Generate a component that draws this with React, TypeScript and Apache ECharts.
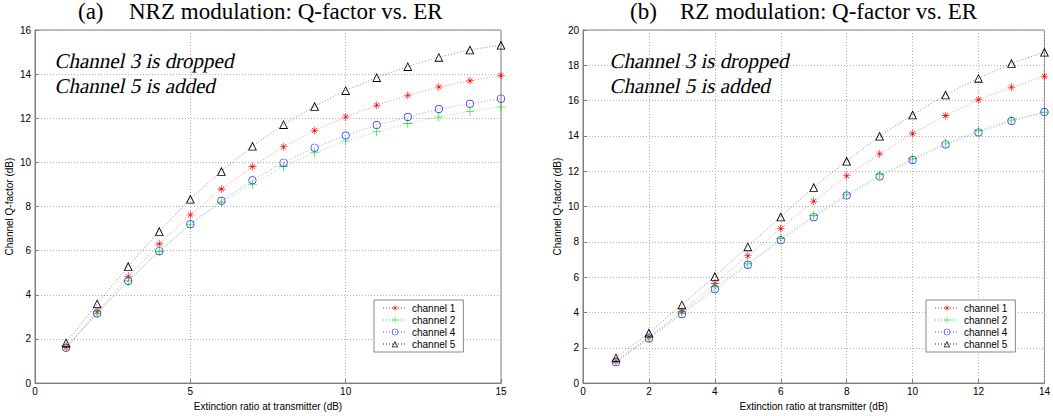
import React, { useEffect, useRef } from "react";
import * as echarts from "echarts";

const erNRZ = [1, 2, 3, 4, 5, 6, 7, 8, 9, 10, 11, 12, 13, 14, 15];
const nrzCh1 = [1.62, 3.23, 4.84, 6.31, 7.62, 8.79, 9.81, 10.71, 11.45, 12.06, 12.59, 13.04, 13.42, 13.70, 13.94];
const nrzCh2 = [1.65, 3.17, 4.63, 5.97, 7.2, 8.2, 9.01, 9.81, 10.44, 10.97, 11.39, 11.76, 12.06, 12.32, 12.51];
const nrzCh4 = [1.6, 3.15, 4.63, 5.98, 7.2, 8.26, 9.19, 9.99, 10.67, 11.22, 11.69, 12.06, 12.42, 12.66, 12.89];
const nrzCh5 = [1.83, 3.6, 5.29, 6.88, 8.34, 9.6, 10.74, 11.72, 12.54, 13.26, 13.85, 14.35, 14.77, 15.1, 15.32];

const erRZ = [1, 2, 3, 4, 5, 6, 7, 8, 9, 10, 11, 12, 13, 14];
const rzCh1 = [1.25, 2.6, 4.06, 5.65, 7.21, 8.76, 10.3, 11.74, 12.98, 14.14, 15.15, 16.05, 16.76, 17.38];
const rzCh2 = [1.22, 2.58, 3.95, 5.45, 6.75, 8.2, 9.5, 10.7, 11.8, 12.7, 13.6, 14.3, 14.9, 15.35];
const rzCh4 = [1.18, 2.53, 3.9, 5.32, 6.7, 8.09, 9.4, 10.62, 11.7, 12.64, 13.52, 14.2, 14.85, 15.35];
const rzCh5 = [1.44, 2.85, 4.44, 6.05, 7.73, 9.42, 11.09, 12.58, 13.99, 15.2, 16.33, 17.27, 18.11, 18.75];

const channelNames = ["channel 1", "channel 2", "channel 4", "channel 5"];
const titleTags = ["(a)", "(b)"];
const titleTexts = ["NRZ modulation: Q-factor vs. ER", "RZ modulation: Q-factor vs. ER"];
const noteLines = ["Channel 3 is dropped", "Channel 5 is added"];
const xName = "Extinction ratio at transmitter (dB)";
const yName = "Channel Q-factor (dB)";

const PLUS = "path://M4.65 0H5.35V4.65H10V5.35H5.35V10H4.65V5.35H0V4.65H4.65Z";
const STAR =
  "path://M4.65 0H5.35V4.65H10V5.35H5.35V10H4.65V5.35H0V4.65H4.65Z M1.7 2.2L2.2 1.7L8.3 7.8L7.8 8.3Z M7.8 1.7L8.3 2.2L2.2 8.3L1.7 7.8Z";
const RING =
  "path://M0 5A5 5 0 1 0 10 5A5 5 0 1 0 0 5Z M0.9 5A4.1 4.1 0 1 1 9.1 5A4.1 4.1 0 1 1 0.9 5Z";
const TRI = "path://M5 0L10 9L0 9Z M5 1.9L1.55 8.15L8.45 8.15Z";

const styles = [
  { color: "#ff0000", symbol: STAR, size: 8 },
  { color: "#00dd00", symbol: PLUS, size: 9 },
  { color: "#2a2aff", symbol: RING, size: 8 },
  { color: "#000000", symbol: TRI, size: 9 },
];

const SANS = "'Liberation Sans', Arial, sans-serif";
const SERIF = "'Liberation Serif', 'Times New Roman', serif";

function pairs(xs: number[], ys: number[]) {
  return xs.map((x, i) => [x, ys[i]]);
}

export default function App() {
  const ref = useRef<HTMLDivElement>(null);
  useEffect(() => {
    document.body.style.margin = "0";
    const chart = echarts.init(ref.current!, null, { renderer: "svg" });
    const grids = [
      { left: 35, top: 30, width: 466, height: 355 },
      { left: 583, top: 30, width: 466, height: 355 },
    ];
    const axisCommon = {
      axisLine: { show: true, onZero: false, lineStyle: { color: "#7f7f7f", width: 1 } },
      axisTick: { show: true, inside: true, length: 4, lineStyle: { color: "#7f7f7f" } },
      splitLine: { show: true, lineStyle: { color: "#b0b0b0", type: [1, 2], width: 1 } },
      axisLabel: { color: "#000", fontSize: 10, fontFamily: SANS },
      nameTextStyle: { color: "#000", fontSize: 10, fontFamily: SANS },
    };
    const xAxes = [
      { gridIndex: 0, type: "value", min: 0, max: 15, interval: 5, name: xName, nameLocation: "middle", nameGap: 16, ...axisCommon, axisLabel: { ...axisCommon.axisLabel, margin: 3 } },
      { gridIndex: 1, type: "value", min: 0, max: 14, interval: 2, name: xName, nameLocation: "middle", nameGap: 16, ...axisCommon, axisLabel: { ...axisCommon.axisLabel, margin: 3 } },
    ];
    const yAxes = [
      { gridIndex: 0, type: "value", min: 0, max: 16, interval: 2, name: yName, nameLocation: "middle", nameGap: 21, nameRotate: 90, ...axisCommon, axisLabel: { ...axisCommon.axisLabel, margin: 4 } },
      { gridIndex: 1, type: "value", min: 0, max: 20, interval: 2, name: yName, nameLocation: "middle", nameGap: 21, nameRotate: 90, ...axisCommon, axisLabel: { ...axisCommon.axisLabel, margin: 4 } },
    ];
    const leftData = [nrzCh1, nrzCh2, nrzCh4, nrzCh5];
    const rightData = [rzCh1, rzCh2, rzCh4, rzCh5];
    const series: any[] = [];
    [leftData, rightData].forEach((set, gi) => {
      const xs = gi === 0 ? erNRZ : erRZ;
      set.forEach((ys, i) => {
        const s = styles[i];
        series.push({
          type: "line",
          name: channelNames[i],
          xAxisIndex: gi,
          yAxisIndex: gi,
          data: pairs(xs, ys),
          symbol: s.symbol,
          symbolSize: s.size,
          showSymbol: true,
          showAllSymbol: true,
          lineStyle: { color: s.color, width: 1, type: [1, 2], opacity: 0.45 },
          itemStyle: { color: s.color, borderWidth: 0 },
          emphasis: { disabled: true },
          z: 3,
        });
      });
    });
    const legendCommon = {
      orient: "vertical",
      data: channelNames,
      backgroundColor: "#fff",
      borderColor: "#8a8a8a",
      borderWidth: 1,
      padding: [3, 8, 3, 8],
      itemGap: 2,
      itemWidth: 24,
      itemHeight: 8,
      selectedMode: false,
      textStyle: { fontSize: 10, fontFamily: SANS, color: "#000" },
    };
    const graphic: any[] = [];
    const titleX = [[78, 129], [630, 680]];
    titleTags.forEach((t, i) => {
      graphic.push({ type: "text", x: titleX[i][0], y: 0, style: { text: t, fontSize: 23, fontFamily: SERIF, fill: "#000" } });
      graphic.push({ type: "text", x: titleX[i][1], y: 0, style: { text: titleTexts[i], fontSize: 23, fontFamily: SERIF, fill: "#000" } });
    });
    chart.setOption({
      animation: false,
      backgroundColor: "#fff",
      grid: grids.map((g) => ({ ...g, show: true, borderColor: "#7f7f7f", borderWidth: 1, backgroundColor: "transparent" })),
      xAxis: xAxes,
      yAxis: yAxes,
      legend: [
        { ...legendCommon, left: 374, top: 300 },
        { ...legendCommon, left: 926, top: 300 },
      ],
      series,
      graphic,
    });
    const zr = chart.getZr();
    const noteX = [55, 610];
    noteX.forEach((nx) => {
      noteLines.forEach((line, j) => {
        const t = new (echarts.graphic as any).Text({
          x: nx,
          y: 51 + j * 25,
          originX: 0,
          originY: 15,
          skewX: -0.21,
          z: 10,
          style: { text: line, fontSize: 21, fontFamily: SERIF, fill: "#000" },
        });
        zr.add(t);
      });
    });
    return () => chart.dispose();
  }, []);
  return <div ref={ref} style={{ position: "fixed", left: 0, top: 0, width: 1053, height: 416 }} />;
}
